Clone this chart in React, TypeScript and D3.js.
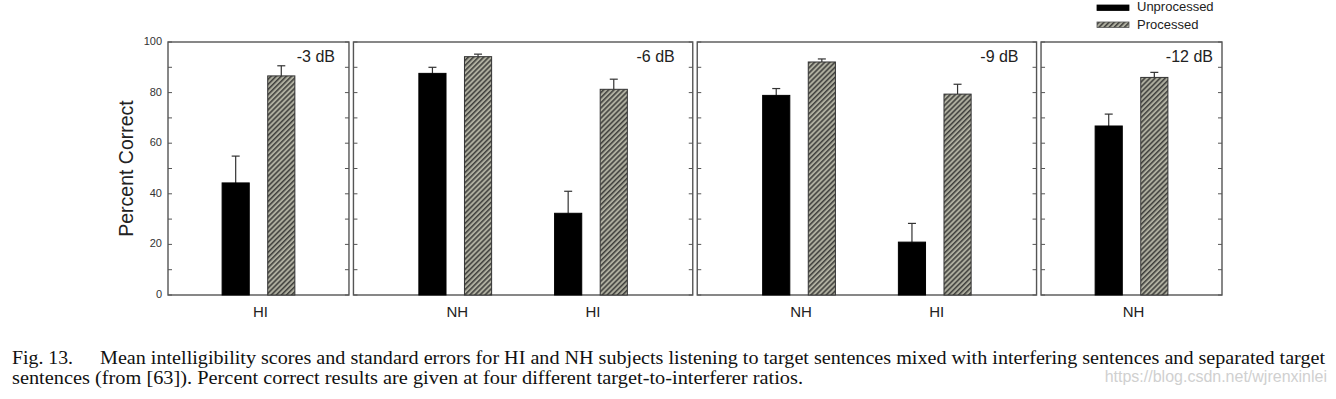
import React from "react";
import * as d3 from "d3";

// panels (target-to-interferer ratio) and the groups inside them
const panelLabels = ["-3 dB", "-6 dB", "-9 dB", "-12 dB"];
const groupPanel = [0, 1, 1, 2, 2, 3];
const groupNames = ["HI", "NH", "HI", "NH", "HI", "NH"];

// percent correct
const unprocessed = [44.3, 87.6, 32.3, 78.9, 20.9, 66.8];
const unprocessedErr = [10.6, 2.4, 8.7, 2.7, 7.4, 4.7];
const processed = [86.6, 94.2, 81.3, 92.1, 79.4, 86.0];
const processedErr = [4.0, 1.0, 4.0, 1.2, 3.9, 2.0];

const yTicks = [0, 20, 40, 60, 80, 100];
const yMinor = d3.range(0, 101, 10);
const seriesNames = ["Unprocessed", "Processed"];

const caption1a = "Fig. 13.";
const caption1b =
  "Mean intelligibility scores and standard errors for HI and NH subjects listening to target sentences mixed with interfering sentences and separated target";
const caption2 =
  "sentences (from [63]). Percent correct results are given at four different target-to-interferer ratios.";
const watermark = "https://blog.csdn.net/wjrenxinlei";

const W = 1336;
const H = 399;
const plotLeft = 168;
const plotRight = 1222;
const plotTop = 42;
const plotBottom = 295;
const gapUnits = 0.033;
const barW = 0.2;
const barOff = 0.168;
const labelInset = [14, 18, 18, 9];
const sans = "Arial, 'Liberation Sans', Helvetica, sans-serif";
const serif = "'Times New Roman', 'Liberation Serif', Times, serif";

export default function App() {
  const y = d3.scaleLinear().domain([0, 100]).range([plotBottom, plotTop]);

  // layout the panels in "category units"
  const counts = panelLabels.map((_, p) => groupPanel.filter((g) => g === p).length);
  const widths = counts.map((n) => (n === 1 ? 4 / 3 : 2.5));
  const starts: number[] = [];
  let acc = 0;
  widths.forEach((w) => {
    starts.push(acc);
    acc += w + gapUnits;
  });
  const total = acc - gapUnits;
  const x = d3.scaleLinear().domain([0, total]).range([plotLeft, plotRight]);

  // center of each group in units
  const groupCenter = groupNames.map((_, i) => {
    const p = groupPanel[i];
    const k = groupPanel.slice(0, i).filter((g) => g === p).length;
    const pad = counts[p] === 1 ? 2 / 3 : 0.75;
    return starts[p] + pad + k;
  });

  const bars = groupNames.flatMap((name, i) => [
    { i, s: 0, v: unprocessed[i], e: unprocessedErr[i], c: groupCenter[i] - barOff },
    { i, s: 1, v: processed[i], e: processedErr[i], c: groupCenter[i] + barOff },
  ]);

  return (
    <svg width={W} height={H} style={{ position: "absolute", left: 0, top: 0, background: "#fff" }}>
      <defs>
        <pattern id="hatch" patternUnits="userSpaceOnUse" width={3.6} height={3.6} patternTransform="rotate(45)">
          <rect width={3.6} height={3.6} fill="#aeae9f" />
          <line x1={0.8} y1={0} x2={0.8} y2={3.6} stroke="#2b2b2b" strokeWidth={1.3} />
        </pattern>
      </defs>

      {/* panels */}
      {panelLabels.map((lab, p) => {
        const x0 = x(starts[p]);
        const x1 = x(starts[p] + widths[p]);
        return (
          <g key={p}>
            <rect x={x0} y={plotTop} width={x1 - x0} height={plotBottom - plotTop} fill="none" stroke="#555" strokeWidth={1.4} />
            {yMinor.map((t) => (
              <g key={t} stroke="#555" strokeWidth={1}>
                <line x1={x0} x2={x0 + 4} y1={y(t)} y2={y(t)} />
                <line x1={x1} x2={x1 - 4} y1={y(t)} y2={y(t)} />
              </g>
            ))}
            <text x={x1 - labelInset[p]} y={plotTop + 16} textAnchor="end" fontFamily={sans} fontSize={16} fill="#222" dominantBaseline="middle">
              {lab}
            </text>
          </g>
        );
      })}

      {/* y tick labels */}
      {yTicks.map((t) => (
        <text key={t} x={plotLeft - 6} y={y(t)} textAnchor="end" dominantBaseline="middle" fontFamily={sans} fontSize={11} fill="#333">
          {t}
        </text>
      ))}
      <text
        transform={`translate(128,${(plotTop + plotBottom) / 2}) rotate(-90)`}
        textAnchor="middle"
        dominantBaseline="middle"
        fontFamily={sans}
        fontSize={19.5}
        fill="#222"
      >
        Percent Correct
      </text>

      {/* bars */}
      {bars.map((b, k) => {
        const bx = x(b.c - barW / 2);
        const bw = x(b.c + barW / 2) - bx;
        const cx = x(b.c);
        return (
          <g key={k}>
            <line x1={cx} x2={cx} y1={y(b.v)} y2={y(b.v + b.e)} stroke="#333" strokeWidth={1.2} />
            <line x1={cx - 4} x2={cx + 4} y1={y(b.v + b.e)} y2={y(b.v + b.e)} stroke="#333" strokeWidth={1.2} />
            <rect
              x={bx}
              y={y(b.v)}
              width={bw}
              height={plotBottom - y(b.v)}
              fill={b.s === 0 ? "#000" : "url(#hatch)"}
              stroke={b.s === 0 ? "#000" : "#333"}
              strokeWidth={1}
            />
          </g>
        );
      })}

      {/* group labels */}
      {groupNames.map((n, i) => (
        <text key={i} x={x(groupCenter[i]) + 2} y={313} textAnchor="middle" dominantBaseline="middle" fontFamily={sans} fontSize={15} fill="#222">
          {n}
        </text>
      ))}

      {/* legend */}
      {seriesNames.map((s, k) => (
        <g key={s}>
          <rect x={1097} y={5 + k * 17} width={32} height={5.5} fill={k === 0 ? "#000" : "url(#hatch)"} stroke={k === 0 ? "#000" : "#555"} strokeWidth={0.8} />
          <text x={1137} y={8 + k * 18} dominantBaseline="middle" fontFamily={sans} fontSize={13} fill="#222">
            {s}
          </text>
        </g>
      ))}

      {/* caption */}
      <text x={12} y={364} fontFamily={serif} fontSize={18} fill="#111" textLength={61} lengthAdjust="spacingAndGlyphs">
        {caption1a}
      </text>
      <text x={100} y={364} fontFamily={serif} fontSize={18} fill="#111" textLength={1225} lengthAdjust="spacingAndGlyphs">
        {caption1b}
      </text>
      <text x={12} y={384} fontFamily={serif} fontSize={18} fill="#111" textLength={791} lengthAdjust="spacingAndGlyphs">
        {caption2}
      </text>
      <text x={1327} y={382} textAnchor="end" fontFamily={sans} fontSize={16} fill="#d0d0d0">
        {watermark}
      </text>
    </svg>
  );
}
